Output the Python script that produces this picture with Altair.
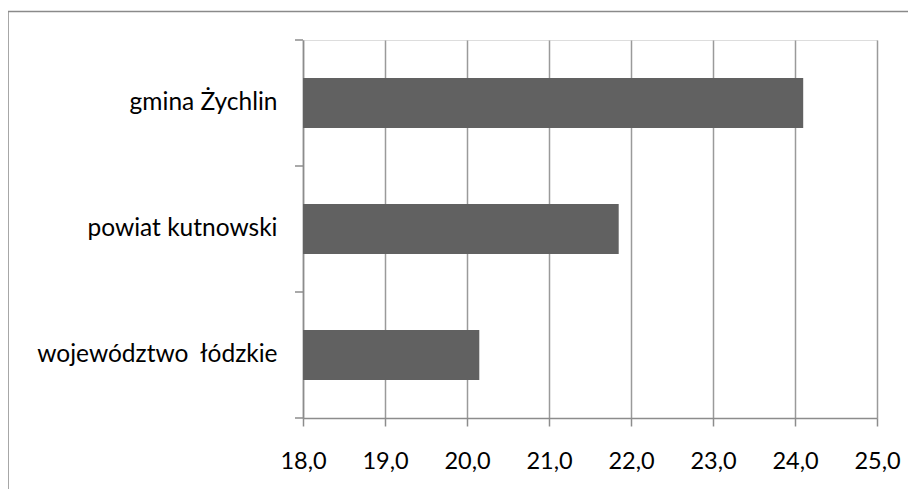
import altair as alt
import pandas as pd

categories = ["gmina Żychlin", "powiat kutnowski", "województwo\u00a0 łódzkie"]
values = [24.1, 21.85, 20.15]
x_ticks = [18, 19, 20, 21, 22, 23, 24, 25]

df = pd.DataFrame({"cat": categories, "v": values})

W, H = 574, 378
FONT = "Lato"
GRAY = "#8c8c8c"

yenc = alt.Y("cat:N", sort=categories,
             scale=alt.Scale(paddingInner=0, paddingOuter=0),
             axis=alt.Axis(title=None, ticks=False, domainColor=GRAY, domainWidth=1.5,
                           labelFont=FONT, labelFontSize=24.5, labelColor="black",
                           labelPadding=26, labelLimit=400))

bars = alt.Chart(df).mark_bar(size=50, color="#616161").encode(
    x=alt.X("v:Q", scale=alt.Scale(domain=[18, 25], nice=False, zero=False),
            axis=alt.Axis(title=None, values=x_ticks, grid=True, gridColor="#9a9a9a",
                          gridWidth=1.5, tickColor=GRAY, tickWidth=1.5, tickSize=8,
                          domainColor=GRAY, domainWidth=1.5, labelFlush=False,
                          labelFont=FONT, labelFontSize=23.5, labelColor="black",
                          labelPadding=23,
                          labelExpr="replace(format(datum.value, '.1f'), '.', ',')")),
    x2=alt.datum(18),
    y=yenc,
)

yticks = alt.Chart(df).mark_rule(color=GRAY, strokeWidth=1.5).encode(
    y=alt.Y("cat:N", sort=categories, bandPosition=0),
    x=alt.value(-8), x2=alt.value(0),
)

bottom_tick = alt.Chart(pd.DataFrame({"a": [0]})).mark_rule(color=GRAY, strokeWidth=1.5).encode(
    y=alt.value(H), x=alt.value(-8), x2=alt.value(0),
)

border = alt.Chart(pd.DataFrame({"a": [0]})).mark_rect(
    fillOpacity=0, stroke="#8a8a8a", strokeWidth=1.5).encode(
    x=alt.value(-295), x2=alt.value(W + 80),
    y=alt.value(-28.5), y2=alt.value(H + 120),
)

chart = alt.layer(border, bars, yticks, bottom_tick).properties(
    width=W, height=H,
    autosize=alt.AutoSizeParams(type="none"),
    padding={"left": 295, "top": 32, "right": 31, "bottom": 71},
).configure_view(stroke=None).configure(background="white")

chart.save("out.html", embed_options={"renderer": "svg", "actions": False})
